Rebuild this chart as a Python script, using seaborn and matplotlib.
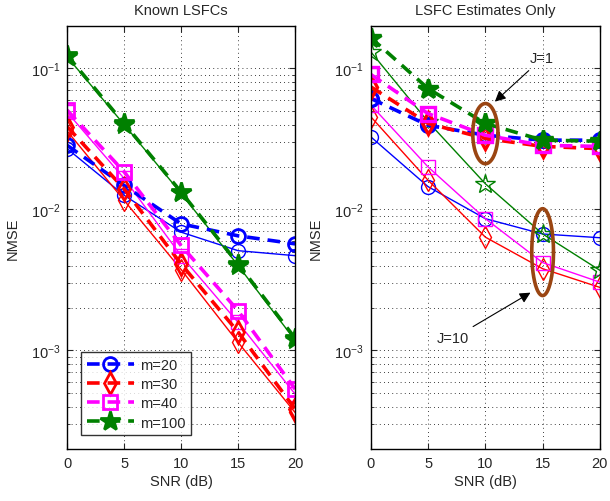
"""
NMSE versus SNR for known LSFCs and for LSFC estimates only.
"""

import matplotlib
matplotlib.use('Agg')
import matplotlib.pyplot as plt
import seaborn as sns
import numpy as np


sns.set_style("ticks")
plt.rcParams['font.family'] = ['Liberation Sans', 'DejaVu Sans']
plt.rcParams['font.size'] = 10.5

snr = [0, 5, 10, 15, 20]
labels = ['m=20', 'm=30', 'm=40', 'm=100']
colors = ['#0000ff', '#ff0000', '#ff00ff', '#008000']
markers = ['o', 'd', 's', '*']

# Known LSFCs: dashed (thick) and solid (thin) curves
known_dashed = [
    [0.0285, 0.0148, 0.0079, 0.0065, 0.0057],
    [0.0387, 0.0140, 0.0041, 0.00135, 0.000384],
    [0.0506, 0.0185, 0.00555, 0.00191, 0.000532],
    [0.124, 0.0407, 0.0133, 0.00411, 0.00122],
]
known_solid = [
    [0.0270, 0.0126, 0.0069, 0.0051, 0.0047],
    [0.0360, 0.0116, 0.00375, 0.00114, 0.000363],
    [0.0490, 0.0166, 0.0047, 0.00158, 0.00049],
    [0.121, 0.0400, 0.0130, 0.00400, 0.00118],
]

# LSFC estimates only: J=1 (dashed) and J=10 (solid)
est_dashed = [
    [0.0612, 0.0395, 0.0336, 0.0310, 0.0310],
    [0.0740, 0.0407, 0.0319, 0.0280, 0.0270],
    [0.0906, 0.0478, 0.0336, 0.0285, 0.0280],
    [0.165, 0.0720, 0.0407, 0.0310, 0.0305],
]
est_solid = [
    [0.0327, 0.0145, 0.0086, 0.0067, 0.0063],
    [0.0454, 0.0161, 0.00636, 0.0038, 0.0028],
    [0.0550, 0.0200, 0.0086, 0.0042, 0.00305],
    [0.131, 0.0418, 0.0152, 0.0067, 0.0037],
]

titles = ['Known LSFCs', 'LSFC Estimates Only']
ylim = (2e-4, 0.2)

# ellipses around the J groups: (snr, centre NMSE, half width, half height in decades)
ellipse_j1 = (10, 0.0345, 1.1, 0.2135)
ellipse_j10 = (15, 0.00498, 0.95, 0.308)
ellipse_color = '#9a4512'

dash_pattern = (0, (3.5, 2.2))


def draw_series(ax, values, ls, lw, mew, filled_star):
    for i, vals in enumerate(values):
        face = colors[i] if (markers[i] == '*' and filled_star) else 'none'
        ms = 15 if markers[i] == '*' else (11 if markers[i] == 'd' else 10)
        sns.lineplot(x=snr, y=vals, ax=ax, color=colors[i], linestyle=ls,
                     linewidth=lw, marker=markers[i], markersize=ms,
                     markerfacecolor=face, markeredgecolor=colors[i],
                     markeredgewidth=mew, label=labels[i] if lw > 2 else None,
                     legend=False)


def draw_ellipse(ax, spec):
    x0, y0, a, b = spec
    t = np.linspace(0, 2 * np.pi, 200)
    ax.plot(x0 + a * np.cos(t), 10 ** (np.log10(y0) + b * np.sin(t)),
            color=ellipse_color, linewidth=2.6, zorder=5)


fig = plt.figure(figsize=(6.10, 5.02), dpi=100)
ax1 = fig.add_axes([0.110, 0.1036, 0.3738, 0.8426])
ax2 = fig.add_axes([0.608, 0.1036, 0.3754, 0.8426])

draw_series(ax1, known_solid, '-', 1.0, 1.0, True)
draw_series(ax1, known_dashed, dash_pattern, 2.6, 2.0, True)
draw_series(ax2, est_solid, '-', 1.0, 1.0, False)
draw_series(ax2, est_dashed, dash_pattern, 2.6, 2.4, True)

for ax, title in zip([ax1, ax2], titles):
    ax.set_yscale('log')
    ax.set_xlim(0, 20)
    ax.set_ylim(*ylim)
    ax.set_xticks(snr)
    ax.set_title(title, fontsize=10.5, pad=9)
    ax.set_xlabel('SNR (dB)', fontsize=10.5, labelpad=3)
    ax.set_ylabel('NMSE', fontsize=10.5, labelpad=8)
    ax.grid(True, which='major', linestyle=(0, (1, 4)), color='k', linewidth=0.6)
    ax.grid(True, which='minor', axis='y', linestyle=(0, (1, 4)), color='k', linewidth=0.6)
    ax.tick_params(which='both', direction='in', top=True, right=True)
    ax.tick_params(which='major', length=4, labelsize=10.5, pad=5)
    ax.tick_params(which='minor', length=2)
    for sp in ax.spines.values():
        sp.set_linewidth(1.0)
        sp.set_color('k')

leg = ax1.legend(loc='lower left', bbox_to_anchor=(0.03, 0.015), fontsize=10.5,
                 frameon=True, fancybox=False, edgecolor='k', handlelength=3.2,
                 handletextpad=0.4, borderpad=0.4, labelspacing=0.35)
leg.get_frame().set_linewidth(1.0)

draw_ellipse(ax2, ellipse_j1)
draw_ellipse(ax2, ellipse_j10)

arrow = dict(arrowstyle='-|>', color='k', lw=0.8, mutation_scale=16)
ax2.annotate('J=1', xy=(10.65, 0.0564), xytext=(13.9, 0.105),
             fontsize=10.5, ha='left', va='bottom', arrowprops=arrow)
ax2.annotate('J=10', xy=(14.15, 0.00263), xytext=(7.2, 0.00122),
             fontsize=10.5, ha='center', va='center', arrowprops=arrow)

plt.savefig('out.png', dpi=100)
plt.close()
